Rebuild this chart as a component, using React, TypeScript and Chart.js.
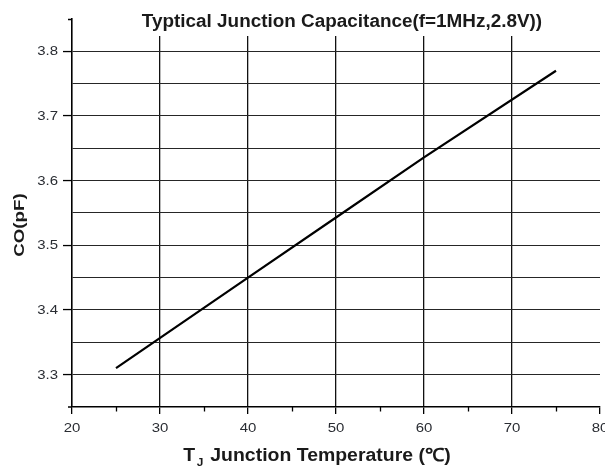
import React, { useEffect, useRef } from "react";
import { Chart, registerables } from "chart.js";

Chart.register(...registerables);

const titleText = "Typtical Junction Capacitance(f=1MHz,2.8V))";
const yTitle = "CO(pF)";
const xTitleMain = "T";
const xTitleSub = "J";
const xTitleRest = " Junction Temperature (\u2103)";

const temperatures = [25, 40, 50, 60, 75];
const capacitance = [3.31, 3.45, 3.543, 3.636, 3.77];

const xMin = 20;
const xMax = 80;
const xMajorTicks = [20, 30, 40, 50, 60, 70, 80];
const xMinorTicks = [25, 35, 45, 55, 65, 75];
const yMin = 3.25;
const yMax = 3.85;
const yTickLabels = ["3.3", "3.4", "3.5", "3.6", "3.7", "3.8"];

const FONT = "'Liberation Sans', Arial, sans-serif";

function stretchedText(
  ctx: CanvasRenderingContext2D,
  text: string,
  x: number,
  y: number,
  sx: number,
  align: "left" | "center" | "right"
) {
  ctx.save();
  ctx.translate(x, y);
  ctx.scale(sx, 1);
  ctx.textAlign = align;
  ctx.fillText(text, 0, 0);
  ctx.restore();
}

const overlayPlugin = {
  id: "overlay",
  afterDraw(chart: any) {
    const { ctx, chartArea } = chart;
    const xs = chart.scales.x;
    const ys = chart.scales.y;
    ctx.save();
    ctx.strokeStyle = "#000";
    ctx.lineWidth = 1.3;
    // minor x ticks
    xMinorTicks.forEach((v) => {
      const px = Math.round(xs.getPixelForValue(v)) + 0.5;
      ctx.beginPath();
      ctx.moveTo(px, chartArea.bottom);
      ctx.lineTo(px, chartArea.bottom + 4.5);
      ctx.stroke();
    });
    // end stubs of axes
    ctx.beginPath();
    ctx.moveTo(chartArea.left, chartArea.top + 0.5);
    ctx.lineTo(chartArea.left - 4, chartArea.top + 0.5);
    ctx.moveTo(chartArea.left, chartArea.bottom);
    ctx.lineTo(chartArea.left - 4, chartArea.bottom);
    ctx.stroke();

    // tick labels
    ctx.fillStyle = "#2a2d33";
    ctx.font = `13px ${FONT}`;
    ctx.textBaseline = "middle";
    yTickLabels.forEach((t) => {
      const py = ys.getPixelForValue(Number(t));
      stretchedText(ctx, t, chartArea.left - 14, py + 0.5, 1.15, "right");
    });
    ctx.textBaseline = "alphabetic";
    xMajorTicks.forEach((v) => {
      const px = xs.getPixelForValue(v);
      stretchedText(ctx, String(v), px, 432, 1.15, "center");
    });

    // title background + text
    ctx.fillStyle = "#fff";
    ctx.fillRect(135, 0, 418, 36);
    ctx.fillStyle = "#1a1a1a";
    ctx.font = `bold 18px ${FONT}`;
    ctx.textBaseline = "alphabetic";
    stretchedText(ctx, titleText, 342, 27, 1.05, "center");

    // y title (rotated, stretched along its length)
    ctx.save();
    ctx.translate(24, 225);
    ctx.rotate(-Math.PI / 2);
    ctx.scale(1.25, 1);
    ctx.font = `bold 15px ${FONT}`;
    ctx.textAlign = "center";
    ctx.fillText(yTitle, 0, 0);
    ctx.restore();

    // x title with subscript
    const mainFont = `bold 18px ${FONT}`;
    const subFont = `bold 11px ${FONT}`;
    const sx = 1.08;
    ctx.font = mainFont;
    const wT = ctx.measureText(xTitleMain).width;
    const wR = ctx.measureText(xTitleRest).width;
    ctx.font = subFont;
    const wS = ctx.measureText(xTitleSub).width + 3;
    const total = (wT + wS + wR) * sx;
    const base = 461;
    ctx.save();
    ctx.translate(317 - total / 2, base);
    ctx.scale(sx, 1);
    ctx.textAlign = "left";
    let x = 0;
    ctx.font = mainFont;
    ctx.fillText(xTitleMain, x, 0);
    x += wT + 1.5;
    ctx.font = subFont;
    ctx.fillText(xTitleSub, x, 5);
    x += wS - 1.5;
    ctx.font = mainFont;
    ctx.fillText(xTitleRest, x, 0);
    ctx.restore();
    ctx.restore();
  },
};

export default function App() {
  const ref = useRef<HTMLCanvasElement>(null);
  useEffect(() => {
    document.body.style.margin = "0";
    const canvas = ref.current!;
    const chart = new Chart(canvas, {
      type: "scatter",
      data: {
        datasets: [
          {
            data: temperatures.map((t, i) => ({ x: t, y: capacitance[i] })),
            showLine: true,
            borderColor: "#000",
            borderWidth: 2.2,
            pointRadius: 0,
            fill: false,
          },
        ],
      },
      options: {
        responsive: false,
        animation: false,
        devicePixelRatio: 1,
        layout: { padding: { top: 19, right: 5, left: 0, bottom: 0 } },
        plugins: {
          legend: { display: false },
          tooltip: { enabled: false },
          title: { display: false },
        },
        scales: {
          x: {
            type: "linear",
            min: xMin,
            max: xMax,
            afterFit: (s: any) => {
              s.height = 63;
              s.paddingLeft = 0;
              s.paddingRight = 0;
            },
            ticks: { stepSize: 10, display: false },
            grid: {
              color: (c: any) =>
                c.tick && (c.tick.value === xMin || c.tick.value === xMax)
                  ? "rgba(0,0,0,0)"
                  : "#111",
              lineWidth: 1.3,
              tickColor: "#000",
              tickLength: 7,
              tickWidth: 1.3,
            },
            border: { color: "#000", width: 1.6 },
          },
          y: {
            type: "linear",
            min: yMin,
            max: yMax,
            afterFit: (s: any) => {
              s.width = 72;
              s.paddingTop = 0;
              s.paddingBottom = 0;
            },
            ticks: { stepSize: 0.05, display: false },
            grid: {
              color: (c: any) => {
                const n = c.tick ? Math.round(c.tick.value * 100) : 0;
                return n === 385 ? "rgba(0,0,0,0)" : "#262626";
              },
              lineWidth: 1.1,
              tickColor: (c: any) => {
                const n = c.tick ? Math.round(c.tick.value * 100) : 0;
                return n % 10 === 0 ? "#000" : "rgba(0,0,0,0)";
              },
              tickLength: 9,
              tickWidth: 1.3,
            },
            border: { color: "#000", width: 1.6 },
          },
        },
      },
      plugins: [overlayPlugin],
    });
    return () => chart.destroy();
  }, []);
  return (
    <canvas
      ref={ref}
      width={605}
      height={470}
      style={{ display: "block", width: 605, height: 470 }}
    />
  );
}
